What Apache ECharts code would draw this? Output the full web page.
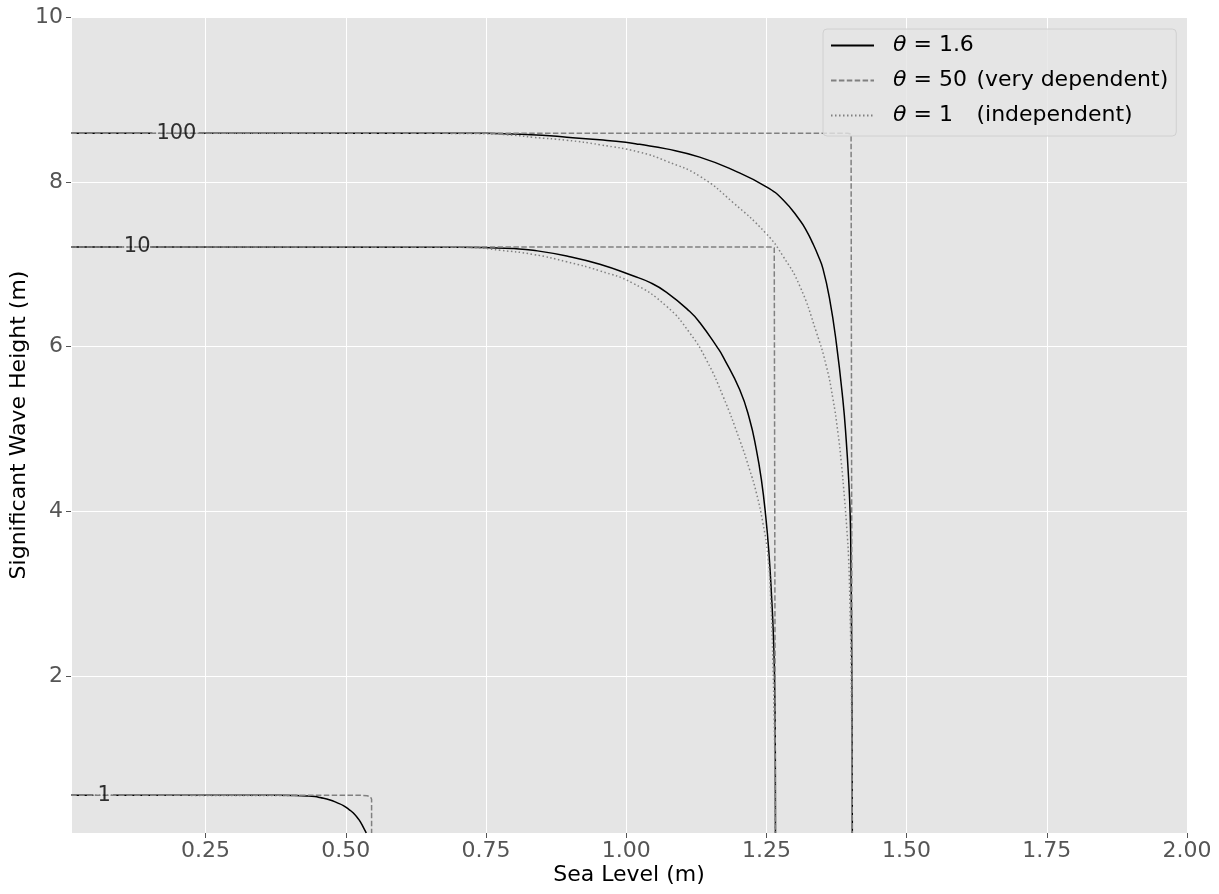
<!DOCTYPE html>
<html>
<head>
<meta charset="utf-8">
<script src="https://cdn.jsdelivr.net/npm/echarts@6/dist/echarts.min.js"></script>
<style>
  html, body { margin: 0; padding: 0; background: #fff; }
  #main { width: 1219px; height: 894px; }
</style>
</head>
<body>
<div id="main"></div>
<script>
// contour values: [sea level, Hs]
// theta = 1.6 (solid)
var solid100 = [[0.01, 8.59], [0.155, 8.59], [0.2, null], [0.238, 8.59], [0.75, 8.589], [0.80, 8.58], [0.85, 8.565],
  [0.894, 8.542], [0.953, 8.51], [0.999, 8.48], [1.024, 8.455], [1.072, 8.40], [1.131, 8.30], [1.190, 8.145],
  [1.250, 7.94], [1.280, 7.78], [1.309, 7.54], [1.322, 7.40], [1.333, 7.25], [1.342, 7.11], [1.3507, 6.95],
  [1.3627, 6.58], [1.3746, 6.05], [1.3863, 5.36], [1.3923, 4.87], [1.397, 4.35], [1.3995, 3.94], [1.4006, 3.5],
  [1.4018, 2.6], [1.4025, 1.8], [1.403, 1.0], [1.4032, 0.1]];
var solid10 = [[0.01, 7.21], [0.101, 7.21], [0.12, null], [0.152, 7.21], [0.70, 7.208], [0.744, 7.205], [0.80, 7.19],
  [0.834, 7.17], [0.894, 7.10], [0.953, 7.0], [1.012, 6.86], [1.042, 6.78], [1.072, 6.66], [1.113, 6.43],
  [1.1315, 6.29], [1.1637, 5.98], [1.1726, 5.88], [1.2023, 5.48], [1.220, 5.12], [1.232, 4.755], [1.241, 4.39],
  [1.2487, 3.95], [1.2545, 3.5], [1.259, 3.0], [1.2625, 2.5], [1.2645, 2.0], [1.2656, 1.4], [1.266, 0.8],
  [1.2662, 0.1]];
var solid1 = [[0.01, 0.557], [0.05, 0.557], [0.07, null], [0.085, 0.557], [0.38, 0.557], [0.41, 0.555], [0.43, 0.550],
  [0.445, 0.542], [0.454, 0.530], [0.472, 0.500], [0.484, 0.468], [0.4957, 0.432], [0.5077, 0.375],
  [0.5135, 0.342], [0.5225, 0.27], [0.5255, 0.24], [0.5344, 0.13], [0.5365, 0.1]];
// theta = 50 (dashed)
var dashed100 = [[0.01, 8.59], [1.395, 8.59], [1.401, 8.58], [1.403, 8.56], [1.403, 0.1]];
var dashed10 = [[0.01, 7.21], [1.258, 7.21], [1.264, 7.2], [1.266, 7.18], [1.266, 0.1]];
var dashed1 = [[0.01, 0.557], [0.528, 0.557], [0.538, 0.553], [0.544, 0.54], [0.546, 0.51], [0.546, 0.1]];
// theta = 1 (dotted)
var dotted100 = [[0.01, 8.59], [0.70, 8.588], [0.74, 8.585], [0.80, 8.565], [0.834, 8.54], [0.894, 8.505],
  [0.953, 8.45], [1.024, 8.36], [1.072, 8.25], [1.1315, 8.067], [1.1904, 7.75], [1.2499, 7.37],
  [1.2795, 7.10], [1.3093, 6.74], [1.3389, 6.18], [1.3567, 5.77], [1.3686, 5.37], [1.3775, 4.96],
  [1.3835, 4.6], [1.3894, 4.15], [1.3935, 3.78], [1.3965, 3.45], [1.399, 2.85], [1.401, 2.1],
  [1.4025, 1.0], [1.403, 0.1]];
var dotted10 = [[0.01, 7.21], [0.68, 7.208], [0.72, 7.205], [0.775, 7.17], [0.834, 7.12], [0.894, 7.03],
  [0.953, 6.92], [1.012, 6.77], [1.072, 6.49], [1.113, 6.17], [1.143, 5.84], [1.1726, 5.40],
  [1.2023, 4.87], [1.220, 4.51], [1.232, 4.23], [1.2438, 3.86], [1.2527, 3.46], [1.258, 2.9],
  [1.2615, 2.2], [1.2638, 1.5], [1.265, 0.9], [1.2655, 0.1]];
var dotted1 = [[0.01, 0.557], [0.42, 0.556]];

// contour labels (return period)
var levelLabels = ['100', '10', '1'];
var levelLabelPos = [[0.198, 8.59], [0.128, 7.21], [0.069, 0.557]];

var thetaNames = ['θ=1.6', 'θ=50', 'θ=1'];

var font = 'DejaVu Sans';
var myChart = echarts.init(document.getElementById('main'));

function curve(name, data, style, smooth) {
  return {
    name: name,
    type: 'line',
    data: data,
    showSymbol: false,
    symbol: 'none',
    smooth: smooth,
    silent: true,
    connectNulls: false,
    itemStyle: { color: style.color },
    lineStyle: style
  };
}

var solidStyle = { color: '#000000', width: 1.5, type: 'solid' };
var dashedStyle = { color: '#808080', width: 1.5, type: [5.5, 2.4] };
var dottedStyle = { color: '#808080', width: 1.5, type: [1.5, 2.5] };

var labelData = [];
for (var i = 0; i < levelLabels.length; i++) {
  labelData.push({ value: levelLabelPos[i], label: { formatter: levelLabels[i] } });
}

var option = {
  animation: false,
  backgroundColor: '#ffffff',
  grid: {
    left: 71, right: 32, top: 17, bottom: 61,
    containLabel: false, outerBoundsMode: 'none',
    backgroundColor: '#E5E5E5', show: true, borderWidth: 0
  },
  xAxis: {
    type: 'value',
    min: 0.01,
    max: 2.0,
    minInterval: 0.25,
    maxInterval: 0.25,
    name: 'Sea Level (m)',
    nameLocation: 'middle',
    nameGap: 31,
    nameMoveOverlap: false,
    nameTextStyle: { color: '#000', fontSize: 22, fontFamily: font },
    axisLine: { show: false },
    axisTick: { show: true, length: 5, lineStyle: { color: '#555555' } },
    axisLabel: {
      color: '#555555', fontSize: 22, fontFamily: font, margin: 7, showMinLabel: false,
      formatter: function (v) { return v.toFixed(2); }
    },
    splitLine: { show: true, lineStyle: { color: '#ffffff', width: 1 } }
  },
  yAxis: {
    type: 'value',
    min: 0.1,
    max: 10,
    minInterval: 2,
    maxInterval: 2,
    name: 'Significant Wave Height (m)',
    nameLocation: 'middle',
    nameGap: 41,
    nameMoveOverlap: false,
    nameTextStyle: { color: '#000', fontSize: 22, fontFamily: font },
    axisLine: { show: false },
    axisTick: { show: true, length: 5, lineStyle: { color: '#555555' } },
    axisLabel: {
      color: '#555555', fontSize: 22, fontFamily: font, margin: 8, showMinLabel: false,
      formatter: function (v) { return String(Math.round(v)); }
    },
    splitLine: { show: true, lineStyle: { color: '#ffffff', width: 1 } }
  },
  legend: {
    left: 823,
    top: 29,
    orient: 'vertical',
    data: thetaNames,
    itemWidth: 43,
    itemHeight: 14,
    itemGap: 12,
    padding: [5, 8, 9, 7],
    backgroundColor: 'rgba(229,229,229,0.8)',
    borderColor: '#D0D0D0',
    borderWidth: 1,
    borderRadius: 4,
    selectedMode: false,
    itemStyle: { color: 'rgba(0,0,0,0)', borderWidth: 0, opacity: 0 },
    textStyle: {
      color: '#000', fontSize: 22, fontFamily: font, lineHeight: 23,
      rich: {
        s: { width: 14, lineHeight: 23 },
        i: { fontStyle: 'italic', fontSize: 22, fontFamily: font, color: '#000', lineHeight: 23 },
        w: { width: 70, fontSize: 22, fontFamily: font, color: '#000', lineHeight: 23 },
        n: { fontSize: 22, fontFamily: font, color: '#000', lineHeight: 23 }
      }
    },
    formatter: function (name) {
      if (name === 'θ=1.6') return '{s|}{i|θ}{n| = 1.6}';
      if (name === 'θ=50') return '{s|}{i|θ}{w| = 50}{n|(very dependent)}';
      return '{s|}{i|θ}{w| = 1}{n|(independent)}';
    }
  },
  series: [
    curve(thetaNames[0], solid100, solidStyle, 0.5),
    curve(thetaNames[0], solid10, solidStyle, 0.5),
    curve(thetaNames[0], solid1, solidStyle, 0.5),
    curve(thetaNames[1], dashed100, dashedStyle, false),
    curve(thetaNames[1], dashed10, dashedStyle, false),
    curve(thetaNames[1], dashed1, dashedStyle, false),
    curve(thetaNames[2], dotted100, dottedStyle, 0.5),
    curve(thetaNames[2], dotted10, dottedStyle, 0.5),
    curve(thetaNames[2], dotted1, dottedStyle, false),
    {
      type: 'scatter',
      data: labelData,
      symbolSize: 1,
      itemStyle: { color: 'rgba(0,0,0,0)' },
      silent: true,
      z: 10,
      label: { show: true, position: 'inside', color: '#000', fontSize: 21, fontFamily: font }
    }
  ]
};

myChart.setOption(option);
</script>
</body>
</html>
